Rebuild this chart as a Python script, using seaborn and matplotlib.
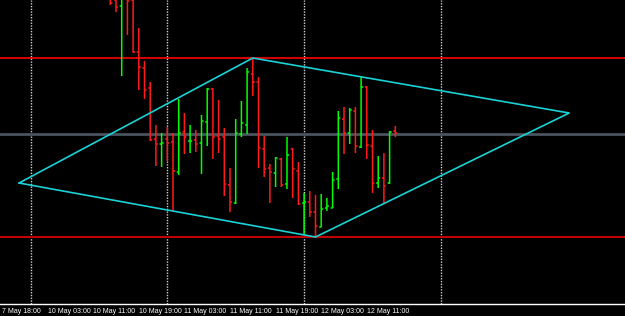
import numpy as np
import pandas as pd
import matplotlib
matplotlib.use("Agg")
import matplotlib.pyplot as plt
import seaborn as sns

# ---- data (price in chart points) ----
bar_index = list(range(19, 70))
opens = [309, 304, 298, 306, 304, 252, 236, 216, 165, 160, 165, 162, 132, 172, 163, 164, 161,
         182, 215, 168, 167, 119, 101, 170, 179, 230, 222, 155, 136, 131, 145, 120, 155, 133,
         101, 102, 92, 77, 96, 96, 125, 185, 171, 193, 157, 217, 158, 121, 126, 121, 173]
highs = [314, 314, 314, 314, 309, 276, 243, 222, 179, 171, 177, 171, 205, 191, 179, 174, 189,
         216, 216, 204, 176, 136, 185, 203, 236, 246, 227, 168, 140, 147, 146, 167, 156, 142,
         111, 113, 109, 110, 106, 132, 193, 197, 196, 197, 227, 218, 174, 148, 151, 173, 178]
lows = [299, 292, 228, 269, 251, 214, 205, 163, 138, 137, 143, 93, 129, 150, 151, 152, 130,
        158, 145, 151, 108, 92, 100, 167, 170, 208, 136, 127, 101, 117, 117, 115, 106, 99,
        69, 87, 67, 77, 93, 96, 115, 150, 160, 151, 156, 145, 111, 116, 100, 120, 167]
closes = [301, 297, 307, 303, 252, 237, 214, 164, 160, 161, 161, 133, 171, 167, 163, 160, 183,
          215, 167, 165, 120, 102, 171, 181, 232, 222, 156, 135, 132, 146, 119, 149, 135, 100,
          102, 92, 78, 95, 98, 124, 186, 171, 194, 158, 217, 159, 121, 126, 118, 172, 171]

level_top = 246
level_bottom = 67
level_mid = 170

diamond_x = [3, 44, 99.5, 55, 3]
diamond_y = [121, 246, 191, 67, 121]

tick_pos = [0, 8, 16, 24, 32, 40, 48, 56, 64]
tick_labels = ["7 May 18:00", "10 May 03:00", "10 May 11:00", "10 May 19:00",
               "11 May 03:00", "11 May 11:00", "11 May 19:00", "12 May 03:00", "12 May 11:00"]
grid_pos = [5, 29, 53, 77]

df = pd.DataFrame({"i": bar_index, "open": opens, "high": highs, "low": lows, "close": closes})
df["dir"] = np.where(df["close"] >= df["open"], "up", "down")
diamond = pd.DataFrame({"x": diamond_x, "y": diamond_y})

sns.set_theme(style="dark")
plt.rcParams["font.family"] = ["Liberation Sans", "DejaVu Sans"]

W, H = 625, 316
fig = plt.figure(figsize=(W / 100, H / 100), dpi=100, facecolor="black")
ax = fig.add_axes([0, (H - 304) / H, 1, 304 / H])
ax.set_facecolor("black")

step = 5.7
x0 = -2 / step
ax.set_xlim(x0, x0 + W / step)
ax.set_ylim(0, 304)

# vertical dotted grid
for g in grid_pos:
    ax.axvline(g, color="#d0d0d0", lw=1, ls=(0, (1, 1)), zorder=1)

# horizontal levels
ax.axhline(level_mid, color="#4a545e", lw=2, zorder=1)
ax.axhline(level_top, color="#ff0000", lw=1.2, zorder=2)
ax.axhline(level_bottom, color="#c00000", lw=1.5, zorder=2)

colors = {"up": "#00ff00", "down": "#ff1a1a"}
tick_w = 0.35
for d, sub in df.groupby("dir"):
    c = colors[d]
    ax.vlines(sub["i"], sub["low"], sub["high"], color=c, lw=1.1, snap=False, zorder=3)
    ax.hlines(sub["open"], sub["i"] - tick_w, sub["i"], color=c, lw=1.1, snap=False, zorder=3)
    ax.hlines(sub["close"], sub["i"], sub["i"] + tick_w, color=c, lw=1.1, snap=False, zorder=3)

sns.lineplot(data=diamond, x="x", y="y", sort=False, estimator=None, color="#19d2d6",
             lw=1.2, ax=ax, zorder=4)

# axis
ax.grid(False)
for s in ["top", "right", "left"]:
    ax.spines[s].set_visible(False)
ax.spines["bottom"].set_color("white")
ax.spines["bottom"].set_linewidth(1)
ax.set_yticks([])
ax.set_xticks(tick_pos)
ax.set_xticklabels(tick_labels, ha="left", color="white", fontsize=5.0)
ax.tick_params(axis="x", colors="white", length=2.5, width=1, pad=0.3, direction="out")
for lbl in ax.get_xticklabels():
    lbl.set_color("white")
ax.set_xlabel("")
ax.set_ylabel("")

fig.savefig("out.png", dpi=100, facecolor="black")
